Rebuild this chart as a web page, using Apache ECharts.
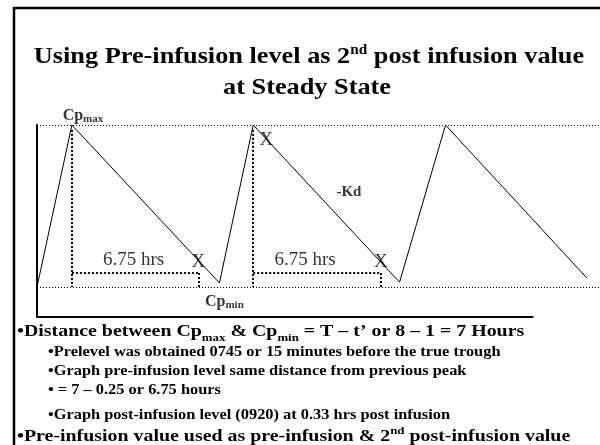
<!DOCTYPE html>
<html>
<head>
<meta charset="UTF-8">
<title>Pre-infusion level as 2nd post infusion value</title>
<script src="https://cdn.jsdelivr.net/npm/echarts@6/dist/echarts.min.js"></script>
<style>
html, body { margin: 0; padding: 0; width: 100%; height: 100%; background: #fff; overflow: hidden; }
#main { width: 600px; height: 445px; }
</style>
</head>
<body>
<div id="main"></div>
<script>
// sawtooth: hours from the left axis, level as % of Cp max
var hours = [0, 1.55, 8.1, 9.6, 16.1, 18.14, 24.42];
var level = [0, 100, 2.5, 100, 3, 100, 5.5];

// dotted construction lines: drops from the peaks, the 6.75 h spans, drops from the pre-levels
var guideFrom = [[1.55, 97], [9.6, 97], [1.55, 8.6], [9.6, 8.6], [7.17, 8.6], [15.27, 8.6]];
var guideTo = [[1.55, 0], [9.6, 0], [7.17, 8.6], [15.27, 8.6], [7.17, 0], [15.27, 0]];

// notes written on the graph
var noteText = ['{cp|Cp}{sub|max}', '{cp|Cp}{sub|min}', '{kd|-Kd}', '{hr|6.75 hrs}', '{hr|6.75 hrs}', '{x|X}', '{x|X}', '{x|X}'];
var noteX = [2.04, 8.32, 13.85, 4.29, 11.9, 7.17, 15.27, 10.18];
var noteY = [105.6, -9.3, 58.6, 16.7, 16.7, 15.4, 15.4, 90.7];

var titleLines = [
  'Using Pre-infusion level as 2{sup|nd} post infusion value',
  'at Steady State'
];
var bullets = [
  '\u2022Distance between Cp{sub|max} & Cp{sub|min} = T \u2013 t\u2019 or 8 \u2013 1 = 7 Hours',
  '\u2022Prelevel was obtained 0745 or 15 minutes before the true trough',
  '\u2022Graph pre-infusion level same distance from previous peak',
  '\u2022 = 7 \u2013 0.25 or 6.75 hours',
  '\u2022Graph post-infusion level (0920) at 0.33 hrs post infusion',
  '\u2022Pre-infusion value used as pre-infusion & 2{sup|nd} post-infusion value'
];

var serif = "'Liberation Serif', 'Times New Roman', serif";
var chart = echarts.init(document.getElementById('main'));

// slide text is set a little wider than the font, hence scaleX
function slideText(str, x, y, size, align, stretch, smallSize) {
  return {
    type: 'text', silent: true, x: x, y: y, scaleX: stretch,
    style: {
      text: str, fill: '#000', fontFamily: serif, fontWeight: 'bold',
      fontSize: size, lineHeight: size + 4,
      align: align, textAlign: align, verticalAlign: 'top', textVerticalAlign: 'top',
      rich: {
        sub: { fontSize: smallSize, lineHeight: smallSize, verticalAlign: 'bottom', fontWeight: 'bold', fontFamily: serif, fill: '#000', padding: [0, 0, -2, 0] },
        sup: { fontSize: smallSize, lineHeight: smallSize, verticalAlign: 'top', fontWeight: 'bold', fontFamily: serif, fill: '#000' }
      }
    }
  };
}

var graphics = [{
  type: 'rect', silent: true,
  shape: { x: 14, y: 8, width: 700, height: 500 },
  style: { fill: 'none', stroke: '#000', lineWidth: 2.5 }
}];
graphics.push(slideText(titleLines[0], 309, 43, 24, 'center', 1.095, 14));
graphics.push(slideText(titleLines[1], 307, 74, 24, 'center', 1.095, 14));

var bulletLeft = [17, 48, 48, 48, 48, 17];
var bulletTop = [321, 343.5, 362.5, 381.5, 406.5, 426];
var bulletSize = [17, 14, 14, 14, 14, 17];
bullets.forEach(function (b, i) {
  graphics.push(slideText(b, bulletLeft[i], bulletTop[i], bulletSize[i], 'left', 1.17, 11));
});

var guideLines = guideFrom.map(function (p, i) {
  return [{ coord: p }, { coord: guideTo[i] }];
});

option = {
  backgroundColor: '#fff',
  animation: false,
  graphic: graphics,
  grid: { left: 37, top: 125, width: 565, height: 192 },
  xAxis: { type: 'value', min: 0, max: 25, show: false },
  yAxis: {
    type: 'value', min: -18.5, max: 100,
    axisLine: { show: true, lineStyle: { color: '#000', width: 2 } },
    axisTick: { show: false }, axisLabel: { show: false }, splitLine: { show: false }
  },
  series: [{
    name: 'level', type: 'line',
    data: hours.map(function (h, i) { return [h, level[i]]; }),
    showSymbol: false, clip: false,
    lineStyle: { color: '#000', width: 1 },
    markLine: {
      silent: true, symbol: ['none', 'none'], label: { show: false },
      lineStyle: { color: '#000', width: 1, type: [1, 2] },
      data: [{ yAxis: 100 }, { yAxis: 0 },
        [{ coord: [0, -18.5], lineStyle: { type: 'solid', width: 2 } }, { coord: [22.04, -18.5] }]]
    }
  }, {
    name: 'guides', type: 'line',
    data: hours.map(function (h, i) { return [h, level[i]]; }),
    showSymbol: false, lineStyle: { opacity: 0 },
    markLine: {
      silent: true, symbol: ['none', 'none'], label: { show: false },
      lineStyle: { color: '#000', width: 2, type: [2, 2] },
      data: guideLines
    }
  }, {
    name: 'notes', type: 'scatter', clip: false, symbolSize: 0, silent: true,
    data: noteX.map(function (x, i) { return { value: [x, noteY[i]], name: noteText[i] }; }),
    label: {
      show: true, position: 'inside', color: '#000',
      formatter: function (p) { return p.name; },
      rich: {
        cp: { fontFamily: serif, fontWeight: 'bold', fontSize: 16, lineHeight: 18, color: '#000' },
        sub: { fontFamily: serif, fontWeight: 'bold', fontSize: 11, lineHeight: 11, verticalAlign: 'bottom', color: '#000' },
        kd: { fontFamily: serif, fontWeight: 'bold', fontSize: 15, color: '#000' },
        hr: { fontFamily: serif, fontSize: 19, color: '#000' },
        x: { fontFamily: serif, fontSize: 19, color: '#000' }
      }
    }
  }]
};
chart.setOption(option);
window.onresize = function () { chart.resize(); };
</script>
</body>
</html>
